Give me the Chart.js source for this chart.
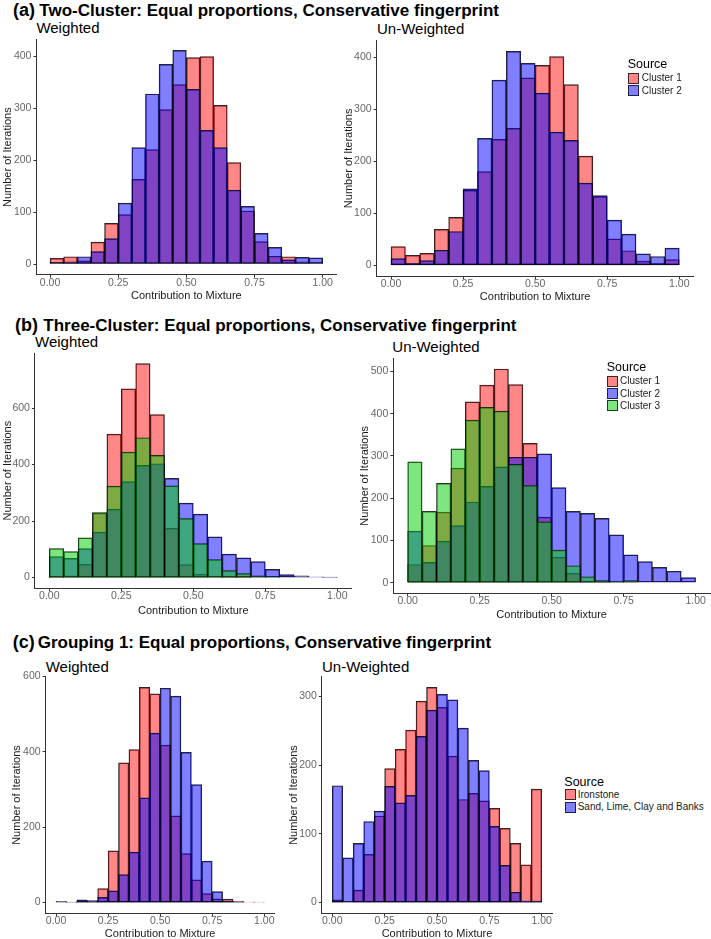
<!DOCTYPE html>
<html>
<head>
<meta charset="utf-8">
<script src="https://cdn.jsdelivr.net/npm/chart.js@4.4.1/dist/chart.umd.min.js"></script>
<style>
html,body{margin:0;padding:0;background:#fff;overflow:hidden;}
#root{position:relative;width:711px;height:939px;overflow:hidden;font-family:'Liberation Sans',Arial,Helvetica,sans-serif;}
.abs{position:absolute;white-space:nowrap;line-height:1;}
.key{position:absolute;box-sizing:border-box;border:1px solid rgba(0,0,0,0.75);}
canvas{position:absolute;}
</style>
</head>
<body>
<div id="root"></div>
<script>
// ---------- data ----------
const binCenters = [0.025,0.075,0.125,0.175,0.225,0.275,0.325,0.375,0.425,0.475,
                    0.525,0.575,0.625,0.675,0.725,0.775,0.825,0.875,0.925,0.975];
const xTickValues = [0, 0.25, 0.5, 0.75, 1];
const yTicksA  = [0, 100, 200, 300, 400];
const yTicksB1 = [0, 200, 400, 600];
const yTicksB2 = [0, 100, 200, 300, 400, 500];
const yTicksC1 = [0, 200, 400, 600];
const yTicksC2 = [0, 100, 200, 300];

const clusterLabels2 = ['Cluster 1', 'Cluster 2'];
const clusterLabels3 = ['Cluster 1', 'Cluster 2', 'Cluster 3'];
const groupLabels = ['Ironstone', 'Sand, Lime, Clay and Banks'];

// (a) Two-Cluster
const aWeightedCluster1   = [11,14,6,42,78,95,163,220,297,345,397,399,305,195,102,43,15,14,4,3];
const aWeightedCluster2   = [3,4,14,24,49,117,224,327,384,411,336,257,224,142,111,59,32,8,13,12];
const aUnweightedCluster1 = [36,19,23,69,92,144,180,242,263,360,384,401,347,210,132,51,28,8,4,11];
const aUnweightedCluster2 = [13,4,9,29,65,147,244,356,411,388,331,256,240,158,134,87,60,22,17,33];

// (b) Three-Cluster
const bWeightedCluster1   = [1,6,47,228,508,668,757,577,174,46,12,3,1,1,0,0,0,0,0,0];
const bWeightedCluster2   = [74,68,103,161,242,340,397,403,351,264,225,144,83,70,57,29,11,6,3,1];
const bWeightedCluster3   = [103,92,141,230,324,444,495,433,325,209,120,64,25,14,6,1,0,0,0,0];
const bUnweightedCluster1 = [43,88,167,271,428,468,506,469,330,155,60,22,3,3,1,0,0,0,0,0];
const bUnweightedCluster2 = [122,48,98,135,191,228,274,297,297,305,225,169,164,152,113,66,50,36,27,12];
const bUnweightedCluster3 = [286,169,235,317,385,415,406,280,230,144,77,40,14,5,2,5,0,0,0,0];

// (c) Grouping 1
const cWeightedIronstone    = [0,1,3,3,37,137,371,406,571,554,418,230,130,60,24,10,9,3,1,1];
const cWeightedSand         = [3,1,7,5,14,31,74,134,278,450,569,548,399,313,110,29,4,1,0,0];
const cUnweightedIronstone  = [4,1,18,70,126,195,223,251,293,313,284,213,150,159,148,137,108,86,55,165];
const cUnweightedSand       = [170,65,86,118,133,169,145,156,242,280,303,295,254,207,192,111,54,15,2,2];

// ---------- style / layout ----------
const FONT = "'Liberation Sans', Arial, Helvetica, sans-serif";
Chart.defaults.font.family = FONT;
const FILLS = ['rgba(255,0,0,0.47)', 'rgba(0,0,255,0.5)', 'rgba(0,205,0,0.5)'];
const root = document.getElementById('root');

function addText(str, left, centerY, size, weight, color) {
  const d = document.createElement('div');
  d.className = 'abs';
  d.textContent = str;
  d.style.left = left + 'px';
  d.style.top = (centerY - 0.49 * size) + 'px';
  d.style.fontSize = size + 'px';
  d.style.fontWeight = weight || 'normal';
  d.style.color = color || '#000';
  root.appendChild(d);
}

function addLegend(title, labels, titleLeft, titleCY, keyLeft, keyTops, labelLeft) {
  addText(title, titleLeft, titleCY, 12.5, 'normal', '#000');
  labels.forEach((lab, i) => {
    const k = document.createElement('div');
    k.className = 'key';
    k.style.left = keyLeft + 'px';
    k.style.top = keyTops[i] + 'px';
    k.style.width = '11px';
    k.style.height = '11px';
    k.style.background = FILLS[i];
    root.appendChild(k);
    addText(lab, labelLeft, keyTops[i] + 5.5, 10, 'normal', '#1a1a1a');
  });
}

function makePanel(g, series, yTicks) {
  const cl = Math.floor(g.yTitleX - 5.5);
  const ct = Math.floor(g.T - 10);
  const cr = Math.ceil(g.R + 10);
  const cb = Math.ceil(g.xTitleY + 5.5);
  const cv = document.createElement('canvas');
  cv.width = cr - cl; cv.height = cb - ct;
  cv.style.left = cl + 'px'; cv.style.top = ct + 'px';
  cv.style.width = (cr - cl) + 'px'; cv.style.height = (cb - ct) + 'px';
  root.appendChild(cv);
  const ymax = Math.max(...series.map(s => Math.max(...s)));
  const axisColor = '#333333';
  new Chart(cv, {
    type: 'bar',
    data: {
      datasets: series.map((vals, i) => ({
        data: binCenters.map((x, j) => ({x: x, y: vals[j]})),
        backgroundColor: FILLS[i],
        borderColor: 'rgba(0,0,0,0.85)',
        borderWidth: 0.8,
        borderSkipped: false,
        grouped: false,
        barPercentage: 1,
        categoryPercentage: 1,
        order: 10 - i
      }))
    },
    options: {
      responsive: false,
      animation: false,
      devicePixelRatio: 1,
      layout: {padding: {left: 0, top: g.T - ct, right: cr - g.R, bottom: 0}},
      plugins: {legend: {display: false}, tooltip: {enabled: false}},
      scales: {
        x: {
          type: 'linear', min: -0.05, max: 1.05, offset: false, bounds: 'data',
          afterBuildTicks: s => { s.ticks = xTickValues.map(v => ({value: v})); },
          afterFit: s => { s.height = cb - g.B; },
          grid: {display: true, drawOnChartArea: false, drawTicks: true, tickLength: 3, color: axisColor, offset: false},
          border: {display: true, color: axisColor, width: 1},
          ticks: {color: '#666', font: {size: 10.5, lineHeight: 1}, padding: 0, maxRotation: 0, autoSkip: false,
                  callback: v => Number(v).toFixed(2)},
          title: {display: true, text: 'Contribution to Mixture', color: '#1a1a1a',
                  font: {size: 11, lineHeight: 1}, padding: {top: 0, bottom: 0}}
        },
        y: {
          type: 'linear', min: -0.05 * ymax, max: 1.05 * ymax, bounds: 'data',
          afterBuildTicks: s => { s.ticks = yTicks.map(v => ({value: v})); },
          afterFit: s => { s.width = g.L - cl; },
          grid: {display: true, drawOnChartArea: false, drawTicks: true, tickLength: 3, color: axisColor, offset: false},
          border: {display: true, color: axisColor, width: 1},
          ticks: {color: '#666', font: {size: 10.5, lineHeight: 1}, padding: 2, autoSkip: false},
          title: {display: true, text: 'Number of Iterations', color: '#1a1a1a',
                  font: {size: 11, lineHeight: 1}, padding: {top: 0, bottom: 0}}
        }
      }
    }
  });
}

// ---------- titles ----------
addText('(a)', 13, 10, 18, 'bold');
addText('Two-Cluster: Equal proportions, Conservative fingerprint', 39.3, 10.5, 17, 'bold');
addText('(b)', 15, 325, 18, 'bold');
addText('Three-Cluster: Equal proportions, Conservative fingerprint', 43.3, 325.5, 17, 'bold');
addText('(c)', 12.7, 641.7, 18, 'bold');
addText('Grouping 1: Equal proportions, Conservative fingerprint', 37.7, 642.2, 17, 'bold');

addText('Weighted', 36.4, 27.5, 15);
addText('Un-Weighted', 377, 28.5, 15);
addText('Weighted', 35, 341.8, 15);
addText('Un-Weighted', 392.3, 346.2, 15);
addText('Weighted', 45.7, 666.2, 15);
addText('Un-Weighted', 322, 666.2, 15);

// ---------- panels ----------
makePanel({L: 36.4, T: 39.6, R: 336.3, B: 274.7, yTitleX: 8, xTitleY: 295},
          [aWeightedCluster1, aWeightedCluster2], yTicksA);
makePanel({L: 376.6, T: 40.7, R: 693.7, B: 276, yTitleX: 349, xTitleY: 296},
          [aUnweightedCluster1, aUnweightedCluster2], yTicksA);
makePanel({L: 34.9, T: 353, R: 351.7, B: 588.3, yTitleX: 8.3, xTitleY: 610},
          [bWeightedCluster1, bWeightedCluster2, bWeightedCluster3], yTicksB1);
makePanel({L: 393.3, T: 358.3, R: 710, B: 593.3, yTitleX: 365, xTitleY: 614},
          [bUnweightedCluster1, bUnweightedCluster2, bUnweightedCluster3], yTicksB2);
makePanel({L: 45.6, T: 676.7, R: 274.7, B: 913.3, yTitleX: 16.7, xTitleY: 933.3},
          [cWeightedIronstone, cWeightedSand], yTicksC1);
makePanel({L: 321.8, T: 676.7, R: 552.2, B: 913.3, yTitleX: 294, xTitleY: 933.3},
          [cUnweightedIronstone, cUnweightedSand], yTicksC2);

// ---------- legends ----------
addLegend('Source', clusterLabels2, 627.7, 64, 628, [72.7, 85], 641.7);
addLegend('Source', clusterLabels3, 606.7, 367.3, 607.3, [375.7, 388, 400.3], 620);
addLegend('Source', groupLabels, 564.3, 781.7, 565, [789.3, 801.7], 577.7);
</script>
</body>
</html>
